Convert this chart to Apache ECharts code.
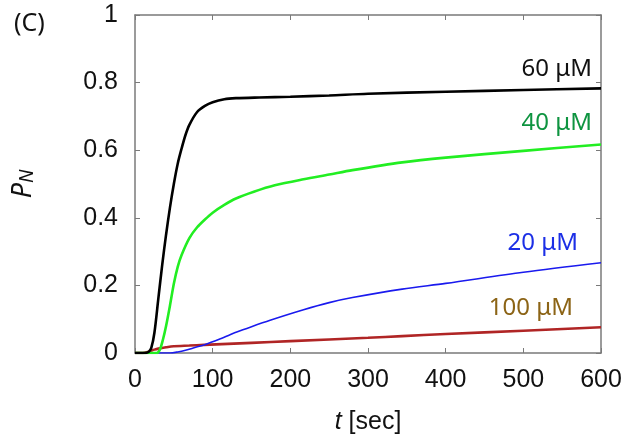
<!DOCTYPE html>
<html>
<head>
<meta charset="utf-8">
<script src="https://cdn.jsdelivr.net/npm/echarts@6/dist/echarts.min.js"></script>
<style>html,body{margin:0;padding:0;background:#fff}#c{width:632px;height:441px}</style>
</head>
<body>
<div id="c"></div>
<script>
// Data
const t60  = [0, 10, 15, 18, 21, 25, 30, 35, 40, 45, 50, 55, 60, 65, 70, 80, 90, 100, 115, 130, 160, 200, 250, 300, 400, 500, 600];
const v60  = [0, 0, 0.001, 0.004, 0.015, 0.06, 0.16, 0.26, 0.35, 0.43, 0.5, 0.56, 0.605, 0.645, 0.675, 0.713, 0.731, 0.742, 0.751, 0.754, 0.756, 0.758, 0.762, 0.767, 0.773, 0.778, 0.783];
const t40  = [0, 28, 32, 36, 40, 45, 50, 55, 60, 70, 80, 90, 100, 115, 130, 153, 180, 217, 250, 280, 344, 400, 500, 600];
const v40  = [0, 0, 0.01, 0.04, 0.08, 0.14, 0.205, 0.255, 0.29, 0.34, 0.372, 0.395, 0.415, 0.438, 0.457, 0.477, 0.496, 0.514, 0.528, 0.541, 0.564, 0.578, 0.598, 0.617];
const t20  = [0, 45, 55, 65, 75, 89, 110, 131, 150, 174, 217, 250, 280, 344, 400, 500, 600];
const v20  = [0, 0, 0.003, 0.008, 0.015, 0.024, 0.042, 0.062, 0.078, 0.097, 0.128, 0.149, 0.164, 0.189, 0.206, 0.239, 0.267];
const t100 = [0, 10, 15, 20, 25, 30, 40, 50, 70, 89, 150, 200, 300, 344, 400, 500, 600];
const v100 = [0, 0, 0.002, 0.006, 0.01, 0.013, 0.017, 0.02, 0.022, 0.024, 0.03, 0.035, 0.045, 0.05, 0.056, 0.066, 0.076];
const seriesNames = ['60 μM', '40 μM', '20 μM', '100 μM'];
const xTicks = [0, 100, 200, 300, 400, 500, 600];
const yTicks = [0, 0.2, 0.4, 0.6, 0.8, 1];

function pairs(t, v) { return t.map((x, i) => [x, v[i]]); }

const chart = echarts.init(document.getElementById('c'), null, {renderer: 'canvas'});
const axisCol = '#7a7a7a';
const sansH = '"Liberation Sans", Arial, sans-serif';
const sansM = '"Noto Sans", sans-serif';
const tickFont = {fontFamily: sansH, fontSize: 25, color: '#111'};

const baseX = {
  type: 'value', min: 0, max: 600, interval: 100,
  axisLine: {show: true, onZero: false, lineStyle: {color: axisCol, width: 1.5}},
  axisTick: {show: true, inside: true, length: 5, lineStyle: {color: axisCol, width: 1}},
  splitLine: {show: false}
};
const baseY = {
  type: 'value', min: 0, max: 1, interval: 0.2,
  axisLine: {show: true, onZero: false, lineStyle: {color: axisCol, width: 1.5}},
  axisTick: {show: true, inside: true, length: 5, lineStyle: {color: axisCol, width: 1}},
  splitLine: {show: false}
};

const colors = ['#000000', '#22ee22', '#1a1aee', '#b02525'];
const widths = [2.6, 2.6, 1.6, 2.6];
const datas = [pairs(t60, v60), pairs(t40, v40), pairs(t20, v20), pairs(t100, v100)];

chart.setOption({
  animation: false,
  backgroundColor: '#fff',
  grid: {left: 130, right: 31, top: 15, bottom: 88},
  xAxis: [
    Object.assign({}, baseX, {
      position: 'bottom',
      axisLabel: Object.assign({margin: 15, formatter: v => xTicks.includes(v) ? String(v) : ''}, tickFont),
      name: '{i|t} [sec]', nameLocation: 'middle', nameGap: 57,
      nameTextStyle: {fontFamily: sansH, fontSize: 25, color: '#111',
        rich: {i: {fontStyle: 'italic', fontFamily: sansH, fontSize: 25, color: '#111'}}}
    }),
    Object.assign({}, baseX, {position: 'top', axisLabel: {show: false}})
  ],
  yAxis: [
    Object.assign({}, baseY, {
      position: 'left',
      axisLabel: Object.assign({margin: 17, formatter: v => yTicks.some(y => Math.abs(y - v) < 1e-9) ? String(+v.toFixed(1)) : ''}, tickFont),
      name: '{i|P}{s|N}', nameLocation: 'middle', nameGap: 98, nameRotate: 90,
      nameTextStyle: {rich: {
        i: {fontStyle: 'italic', fontFamily: sansM, fontSize: 27, color: '#111', verticalAlign: 'bottom', lineHeight: 30},
        s: {fontStyle: 'italic', fontFamily: sansM, fontSize: 19, color: '#111', verticalAlign: 'bottom', lineHeight: 22, padding: [10, 0, 0, 0]}
      }}
    }),
    Object.assign({}, baseY, {position: 'right', axisLabel: {show: false}})
  ],
  series: datas.map((d, i) => ({
    name: seriesNames[i], type: 'line', data: d, smooth: 0.3, showSymbol: false,
    lineStyle: {color: colors[i], width: widths[i]}, z: 10 - i
  })),
  graphic: [
    {type: 'text', left: 14, top: 11, style: {text: '(C)', fontFamily: sansM, fontSize: 25, fill: '#111'}},
    {type: 'text', right: 40, top: 57, style: {text: seriesNames[0], fontFamily: sansM, fontSize: 24, fill: '#111'}},
    {type: 'text', right: 40, top: 111, style: {text: seriesNames[1], fontFamily: sansM, fontSize: 24, fill: '#0e9440'}},
    {type: 'text', right: 54, top: 231, style: {text: seriesNames[2], fontFamily: sansM, fontSize: 24, fill: '#1c2fe6'}},
    {type: 'text', right: 59, top: 296, style: {text: seriesNames[3], fontFamily: sansM, fontSize: 24, fill: '#8c6416'}}
  ]
});
</script>
</body>
</html>
